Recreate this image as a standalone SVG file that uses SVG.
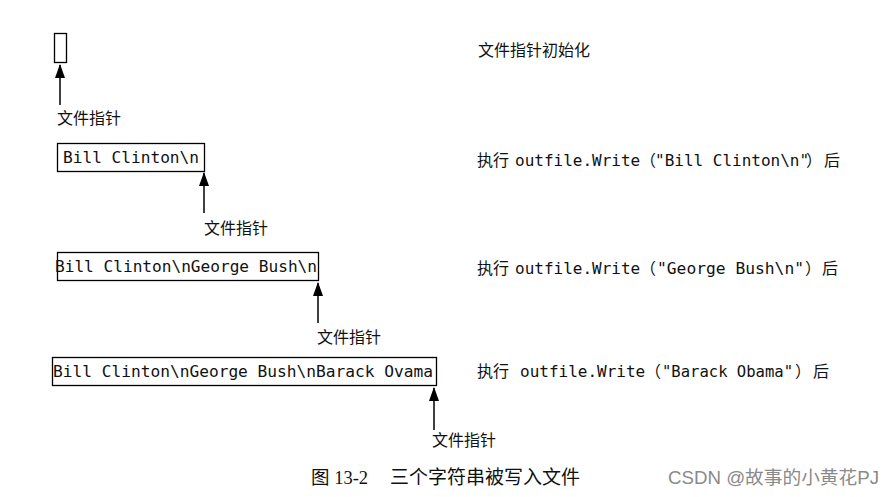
<svg xmlns="http://www.w3.org/2000/svg" width="893" height="497" viewBox="0 0 893 497">
<style>
.box{fill:none;stroke:#000;stroke-width:1.3}
.mono{font-family:"DejaVu Sans Mono","Liberation Mono",monospace;font-size:16px;fill:#111}
.cjk{font-family:"Noto Sans CJK SC",sans-serif;font-size:16px;fill:#111}
.line{stroke:#000;stroke-width:1.5;fill:none}
.cap{font-family:"Liberation Serif","Noto Sans CJK SC",serif;font-size:18.5px;fill:#111}
.wm{font-family:"Liberation Sans","Noto Sans CJK SC",sans-serif;font-size:18.7px;fill:#8a8a8a}
</style>
<defs>
<marker id="ah" markerWidth="14" markerHeight="10" refX="13" refY="5" orient="auto" markerUnits="userSpaceOnUse" viewBox="0 0 14 10">
<path d="M0,0 L14,5 L0,10 Z" fill="#000"/>
</marker>
</defs>
<rect width="893" height="497" fill="#fff"/>

<g id="state0">
<rect class="box" x="54.5" y="33.5" width="12" height="29"/>
<text class="cjk" x="478" y="56" font-size="17.5">文件指针初始化</text>
</g>

<g id="state1">
<rect class="box" x="57.5" y="143.5" width="147" height="28"/>
<text class="mono" x="63" y="163" textLength="136" lengthAdjust="spacingAndGlyphs">Bill Clinton\n</text>
<text y="166"><tspan class="cjk" x="477">执行</tspan><tspan class="mono" x="515">outfile.Write</tspan><tspan class="cjk" x="640">（</tspan><tspan class="mono" x="655" font-size="15.3">"Bill Clinton\n"</tspan><tspan class="cjk" x="806">）</tspan><tspan class="cjk" x="824">后</tspan></text>
</g>

<g id="state2">
<rect class="box" x="57.5" y="252.5" width="261" height="28"/>
<text class="mono" x="55" y="272" textLength="262" lengthAdjust="spacingAndGlyphs">Bill Clinton\nGeorge Bush\n</text>
<text y="274"><tspan class="cjk" x="477">执行</tspan><tspan class="mono" x="515">outfile.Write</tspan><tspan class="cjk" x="640">（</tspan><tspan class="mono" x="657" textLength="147" lengthAdjust="spacingAndGlyphs">"George Bush\n"</tspan><tspan class="cjk" x="805">）</tspan><tspan class="cjk" x="822">后</tspan></text>
</g>

<g id="state3">
<rect class="box" x="52.5" y="357.5" width="384" height="28"/>
<text class="mono" x="53" y="377" textLength="380" lengthAdjust="spacingAndGlyphs">Bill Clinton\nGeorge Bush\nBarack Ovama</text>
<text y="377"><tspan class="cjk" x="477">执行</tspan><tspan class="mono" x="520">outfile.Write</tspan><tspan class="cjk" x="645">（</tspan><tspan class="mono" x="662" textLength="131" lengthAdjust="spacingAndGlyphs">"Barack Obama"</tspan><tspan class="cjk" x="795">）</tspan><tspan class="cjk" x="813">后</tspan></text>
</g>

<g id="pointers">
<line class="line" x1="60" y1="105" x2="60" y2="65" marker-end="url(#ah)"/>
<line class="line" x1="204" y1="213" x2="204" y2="173" marker-end="url(#ah)"/>
<line class="line" x1="318" y1="323" x2="318" y2="283" marker-end="url(#ah)"/>
<line class="line" x1="434" y1="430" x2="434" y2="388" marker-end="url(#ah)"/>
</g>

<g id="labels">
<text class="cjk" x="57" y="124">文件指针</text>
<text class="cjk" x="204" y="234">文件指针</text>
<text class="cjk" x="317" y="343">文件指针</text>
<text class="cjk" x="432" y="446">文件指针</text>
</g>

<g id="caption">
<text class="cap" x="311" y="484">图 13-2<tspan x="390" font-size="19">三个字符串被写入文件</tspan></text>
<text class="wm" x="668" y="484">CSDN @故事的小黄花PJ</text>
</g>
</svg>
